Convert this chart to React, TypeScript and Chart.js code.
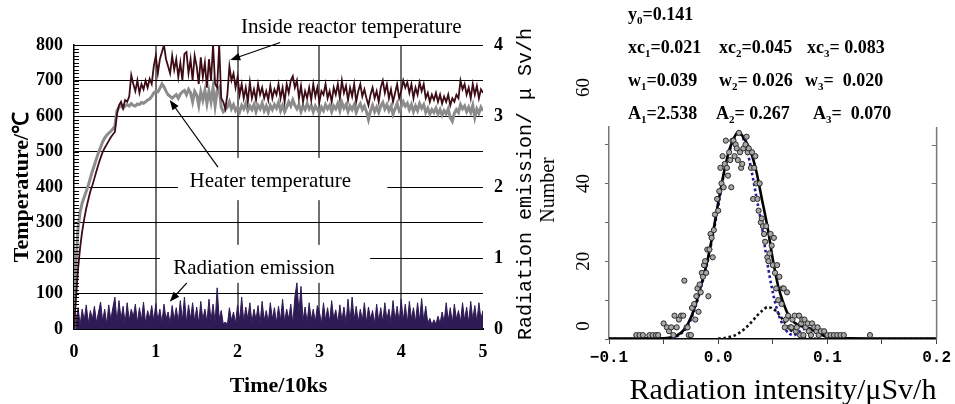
import React, { useEffect, useRef } from "react";
import { Chart, registerables } from "chart.js";

Chart.register(...registerables);

const SERIF = '"Liberation Serif", "Times New Roman", Times, serif';
const MONO = '"Liberation Mono", "Courier New", monospace';

// ---------------- Left panel: temperatures & radiation vs time (10 ks) ----------------
const TIME_STEP = 0.025;

const HEATER_TEMP = [
  0, 190, 285, 330, 355, 372, 388, 405, 425, 445,
  462, 480, 497, 512, 527, 538, 546, 552, 557, 563,
  572, 615, 625, 630, 622, 628, 632, 628, 635, 630,
  628, 634, 632, 638, 636, 640, 645, 648, 655, 665,
  670, 668, 678, 690, 682, 670, 660, 655, 650, 655,
  660, 650, 662, 668, 672, 660, 675, 665, 640, 670,
  660, 630, 668, 645, 672, 635, 670, 640, 680, 628,
  672, 680, 625, 612, 618, 625, 640, 620, 632, 615,
  625, 612, 630, 620, 635, 615, 628, 618, 632, 612,
  630, 620, 636, 615, 628, 610, 630, 618, 632, 622,
  638, 615, 630, 612, 625, 640, 628, 645, 630, 620,
  632, 612, 628, 618, 635, 620, 630, 612, 628, 618,
  608, 625, 615, 632, 620, 630, 612, 628, 620, 635,
  615, 638, 622, 632, 612, 628, 618, 632, 610, 625,
  635, 618, 628, 612, 590, 615, 630, 612, 625, 610,
  628, 638, 620, 632, 615, 628, 605, 620, 635, 615,
  625, 640, 628, 636, 618, 632, 612, 628, 615, 635,
  622, 632, 610, 622, 605, 618, 610, 622, 605, 618,
  602, 615, 606, 620, 595, 585, 608, 618, 610, 632,
  620, 628, 612, 625, 610, 630, 596, 620, 608, 625,
  615,
];

const REACTOR_TEMP = [
  0, 90, 170, 230, 275, 310, 340, 365, 388, 405,
  425, 445, 465, 482, 498, 510, 520, 530, 540, 548,
  555, 605, 630, 640, 622, 645, 640, 655, 715, 690,
  670, 700, 665, 690, 675, 700, 680, 705, 690, 740,
  770, 720, 760, 780, 800, 760, 740, 720, 770, 730,
  760, 710, 750, 700, 775, 780, 720, 760, 700, 770,
  740, 690, 765, 710, 750, 680, 760, 700, 800, 690,
  680, 800, 650, 640, 620, 660, 740, 700, 720, 680,
  710, 660, 690, 650, 680, 640, 695, 650, 675, 645,
  690, 660, 680, 650, 670, 645, 685, 650, 675, 660,
  690, 650, 680, 640, 690, 665, 700, 712, 680, 700,
  650, 685, 640, 670, 650, 680, 645, 690, 655, 680,
  640, 670, 660, 690, 650, 670, 640, 680, 660, 690,
  650, 700, 665, 685, 645, 680, 655, 690, 640, 670,
  690, 655, 675, 650, 630, 660, 680, 650, 670, 640,
  680, 700, 665, 690, 650, 675, 640, 665, 690, 650,
  670, 700, 680, 695, 665, 690, 650, 680, 660, 695,
  670, 690, 650, 665, 640, 660, 645, 665, 640, 660,
  635, 655, 640, 660, 630, 650, 640, 660, 650, 700,
  675, 690, 660, 680, 650, 690, 660, 685, 650, 675,
  665,
];

const RADIATION = [
  0.36, 0.10, 0.30, 0.06, 0.28, 0.12, 0.34, 0.08, 0.26, 0.14,
  0.32, 0.09, 0.24, 0.38, 0.11, 0.28, 0.07, 0.34, 0.13, 0.30,
  0.45, 0.10, 0.40, 0.14, 0.32, 0.08, 0.37, 0.12, 0.28, 0.17,
  0.35, 0.09, 0.30, 0.13, 0.38, 0.08, 0.26, 0.15, 0.33, 0.11,
  0.36, 0.12, 0.28, 0.09, 0.35, 0.14, 0.24, 0.08, 0.33, 0.13,
  0.30, 0.10, 0.40, 0.12, 0.45, 0.09, 0.34, 0.14, 0.37, 0.11,
  0.31, 0.08, 0.39, 0.13, 0.28, 0.10, 0.42, 0.12, 0.35, 0.09,
  0.58, 0.14, 0.26, 0.07, 0.10, 0.06, 0.30, 0.12, 0.24, 0.08,
  0.34, 0.12, 0.45, 0.10, 0.31, 0.14, 0.37, 0.09, 0.28, 0.13,
  0.33, 0.08, 0.39, 0.12, 0.26, 0.10, 0.37, 0.14, 0.30, 0.09,
  0.32, 0.12, 0.42, 0.10, 0.28, 0.14, 0.35, 0.08, 0.45, 0.65,
  0.24, 0.60, 0.12, 0.31, 0.09, 0.37, 0.13, 0.28, 0.10, 0.33,
  0.24, 0.08, 0.37, 0.12, 0.30, 0.10, 0.40, 0.14, 0.27, 0.09,
  0.34, 0.12, 0.31, 0.08, 0.42, 0.11, 0.45, 0.13, 0.32, 0.10,
  0.28, 0.12, 0.37, 0.09, 0.31, 0.14, 0.26, 0.08, 0.35, 0.11,
  0.30, 0.10, 0.37, 0.13, 0.28, 0.09, 0.40, 0.12, 0.32, 0.10,
  0.42, 0.12, 0.35, 0.09, 0.39, 0.14, 0.30, 0.10, 0.37, 0.12,
  0.43, 0.11, 0.32, 0.08, 0.15, 0.06, 0.13, 0.07, 0.18, 0.08,
  0.24, 0.10, 0.37, 0.12, 0.30, 0.09, 0.35, 0.14, 0.26, 0.10,
  0.37, 0.12, 0.31, 0.09, 0.39, 0.13, 0.33, 0.10, 0.37, 0.14,
  0.26,
];

const TIME = HEATER_TEMP.map((_, i) => Math.round(i * TIME_STEP * 1000) / 1000);

// ---------------- Right panel: histogram of radiation intensity ----------------
const HIST_POINTS: [number, number][] = [
  [-0.075, 1], [-0.072, 1], [-0.069, 1], [-0.063, 1], [-0.060, 1], [-0.057, 1], [-0.055, 1],
  [-0.050, 4], [-0.047, 3], [-0.045, 2], [-0.043, 3], [-0.041, 1], [-0.040, 6], [-0.038, 3],
  [-0.036, 5], [-0.034, 6], [-0.032, 6], [-0.031, 15], [-0.029, 3], [-0.028, 3], [-0.027, 1],
  [-0.025, 1], [-0.024, 8], [-0.022, 9], [-0.021, 5], [-0.020, 11], [-0.019, 13], [-0.018, 7],
  [-0.017, 14], [-0.016, 12], [-0.015, 17], [-0.014, 16], [-0.013, 19], [-0.012, 20], [-0.011, 17],
  [-0.010, 23], [-0.009, 11], [-0.008, 23], [-0.007, 27], [-0.006, 26], [-0.005, 21], [-0.004, 28],
  [-0.003, 32], [-0.001, 36], [0.000, 33], [0.001, 38], [0.002, 44], [0.003, 40], [0.004, 47],
  [0.005, 39], [0.006, 45], [0.007, 51], [0.008, 44], [0.009, 42], [0.010, 48], [0.011, 46],
  [0.012, 39], [0.013, 51], [0.014, 51], [0.015, 47], [0.016, 50], [0.017, 49], [0.018, 46],
  [0.019, 53], [0.020, 48], [0.021, 44], [0.022, 45], [0.023, 49], [0.025, 50], [0.026, 52],
  [0.027, 48], [0.028, 49], [0.030, 44], [0.031, 48], [0.032, 36], [0.033, 44], [0.034, 47],
  [0.035, 40], [0.036, 36], [0.037, 33], [0.038, 40], [0.039, 30], [0.040, 31], [0.041, 29],
  [0.042, 27], [0.043, 25], [0.044, 29], [0.045, 21], [0.046, 20], [0.047, 22], [0.048, 27],
  [0.049, 24], [0.050, 19], [0.051, 26], [0.052, 17], [0.053, 13], [0.054, 19], [0.055, 10],
  [0.056, 16], [0.058, 9], [0.059, 13], [0.060, 13], [0.061, 3], [0.062, 5], [0.063, 12],
  [0.064, 6], [0.066, 3], [0.067, 3], [0.068, 5], [0.070, 6], [0.071, 2], [0.072, 3],
  [0.074, 6], [0.075, 1], [0.076, 4], [0.077, 5], [0.078, 1], [0.079, 5], [0.080, 3],
  [0.082, 4], [0.083, 2], [0.085, 1], [0.086, 4], [0.088, 3], [0.090, 2], [0.091, 3],
  [0.092, 1], [0.094, 2], [0.097, 2], [0.100, 1], [0.103, 1], [0.106, 1], [0.109, 1],
  [0.112, 1], [0.115, 1], [0.139, 1],
];

const CURVE_X = [
  -0.1, -0.06, -0.05, -0.04, -0.035, -0.03, -0.025, -0.02, -0.015, -0.01,
  -0.005, 0, 0.005, 0.01, 0.015, 0.018, 0.02, 0.025, 0.03, 0.035,
  0.04, 0.045, 0.05, 0.055, 0.06, 0.065, 0.07, 0.075, 0.08, 0.085,
  0.09, 0.095, 0.1, 0.105, 0.11, 0.12, 0.15, 0.2,
];
const FIT_TOTAL = [
  0.14, 0.15, 0.2, 0.6, 1.4, 2.8, 5.5, 9.5, 14.5, 20,
  27, 35, 42.5, 48.5, 52, 53.2, 53, 51, 48, 43,
  36, 29, 20.5, 13.5, 9, 5.8, 4.2, 3.4, 3.0, 2.5,
  1.7, 1.0, 0.5, 0.3, 0.2, 0.15, 0.14, 0.14,
];
const FIT_PEAKS_1_3 = [
  0, 0, 0.05, 0.4, 1.2, 2.5, 5, 9, 14, 19.5,
  26.5, 34, 42, 48, 51.5, 52.8, 53, 50, 44, 36.5,
  29, 19.5, 12, 6.5, 3.2, 1.4, 1.0, 2.0, 2.7, 2.8,
  2.2, 1.3, 0.5, 0.2, 0.05, 0, 0, 0,
];
const PEAK2_X = [0, 0.005, 0.01, 0.015, 0.02, 0.025, 0.03, 0.035, 0.04, 0.045, 0.05, 0.055, 0.06, 0.065, 0.07, 0.075, 0.08, 0.09, 0.1];
const PEAK2_Y = [0.1, 0.2, 0.5, 0.9, 1.7, 2.8, 4.2, 5.8, 7.2, 8.2, 7.8, 6.6, 4.6, 2.7, 1.4, 0.7, 0.3, 0.05, 0];

const RIGHT_Y_LABELS = [0, 20, 40, 60];
const FIT_ROWS: [string, boolean][][][] = [
  [[["y", false], ["0", true], ["=0.141", false]]],
  [
    [["xc", false], ["1", true], ["=0.021", false]],
    [["xc", false], ["2", true], ["=0.045", false]],
    [["xc", false], ["3", true], ["= 0.083", false]],
  ],
  [
    [["w", false], ["1", true], ["=0.039", false]],
    [["w", false], ["2", true], ["= 0.026", false]],
    [["w", false], ["3", true], ["=  0.020", false]],
  ],
  [
    [["A", false], ["1", true], ["=2.538", false]],
    [["A", false], ["2", true], ["= 0.267", false]],
    [["A", false], ["3", true], ["=  0.070", false]],
  ],
];

function arrow(ctx: CanvasRenderingContext2D, x1: number, y1: number, x2: number, y2: number) {
  const ang = Math.atan2(y2 - y1, x2 - x1);
  const hl = 10, hw = 3.8;
  ctx.beginPath();
  ctx.moveTo(x1, y1);
  ctx.lineTo(x2 - Math.cos(ang) * hl * 0.8, y2 - Math.sin(ang) * hl * 0.8);
  ctx.stroke();
  ctx.beginPath();
  ctx.moveTo(x2, y2);
  ctx.lineTo(x2 - Math.cos(ang) * hl - Math.sin(ang) * hw, y2 - Math.sin(ang) * hl + Math.cos(ang) * hw);
  ctx.lineTo(x2 - Math.cos(ang) * hl + Math.sin(ang) * hw, y2 - Math.sin(ang) * hl - Math.cos(ang) * hw);
  ctx.closePath();
  ctx.fill();
}

const leftDecor = {
  id: "leftDecor",
  beforeDatasetsDraw(chart: any) {
    const { ctx, scales: { x, y } } = chart;
    ctx.save();
    ctx.fillStyle = "#fff";
    const boxes = [
      [1.27, 3.83, 363, 482],
      [1.05, 3.62, 130, 237],
    ];
    for (const [x0, x1, y0, y1] of boxes) {
      const px0 = x.getPixelForValue(x0), px1 = x.getPixelForValue(x1);
      const py0 = y.getPixelForValue(y1), py1 = y.getPixelForValue(y0);
      ctx.fillRect(px0, py0, px1 - px0, py1 - py0);
    }
    ctx.restore();
  },
  afterDraw(chart: any) {
    const { ctx, chartArea: a, scales: { x, y } } = chart;
    ctx.save();
    ctx.strokeStyle = "#000";
    ctx.lineWidth = 1;
    for (let v = 0; v <= 800; v += 10) {
      const py = Math.round(y.getPixelForValue(v)) + 0.5;
      ctx.beginPath();
      ctx.moveTo(a.left - 1, py);
      ctx.lineTo(a.left + 5, py);
      ctx.stroke();
    }
    ctx.fillStyle = "#000";
    ctx.font = `bold 22px ${SERIF}`;
    ctx.textAlign = "center";
    ctx.textBaseline = "middle";
    ctx.save();
    ctx.translate(22, (a.top + a.bottom) / 2);
    ctx.rotate(-Math.PI / 2);
    ctx.fillText("Temperature/℃", 0, 0);
    ctx.restore();
    ctx.textBaseline = "alphabetic";
    ctx.fillText("Time/10ks", (a.left + a.right) / 2, 392);
    ctx.save();
    ctx.font = `20px ${MONO}`;
    ctx.textBaseline = "middle";
    ctx.translate(526, 184);
    ctx.rotate(-Math.PI / 2);
    ctx.fillText("Radiation emission/ μ Sv/h", 0, 0);
    ctx.restore();
    ctx.font = `21px ${SERIF}`;
    ctx.textBaseline = "alphabetic";
    ctx.fillText("Inside reactor temperature", x.getPixelForValue(3.39), y.getPixelForValue(834));
    ctx.fillText("Heater temperature", x.getPixelForValue(2.4), y.getPixelForValue(400));
    ctx.fillText("Radiation emission", x.getPixelForValue(2.2), y.getPixelForValue(155));
    ctx.strokeStyle = "#000";
    ctx.lineWidth = 1.2;
    const arrows = [
      [2.52, 807, 1.91, 758],
      [1.76, 456, 1.17, 645],
      [1.38, 130, 1.17, 77],
    ];
    for (const [ax, ay, bx, by] of arrows) {
      arrow(ctx, x.getPixelForValue(ax), y.getPixelForValue(ay), x.getPixelForValue(bx), y.getPixelForValue(by));
    }
    ctx.restore();
  },
};

const rightDecor = {
  id: "rightDecor",
  afterDraw(chart: any) {
    const { ctx, chartArea: a, scales: { y } } = chart;
    ctx.save();
    ctx.strokeStyle = "#777";
    ctx.lineWidth = 1.5;
    ctx.beginPath();
    ctx.moveTo(a.right, a.top);
    ctx.lineTo(a.right, a.bottom);
    ctx.stroke();
    ctx.lineWidth = 1;
    for (let v = 0; v <= 50; v += 10) {
      const py = Math.round(y.getPixelForValue(v)) + 0.5;
      ctx.beginPath();
      ctx.moveTo(a.right - 5, py);
      ctx.lineTo(a.right, py);
      ctx.stroke();
    }
    ctx.fillStyle = "#000";
    ctx.font = `19px ${SERIF}`;
    ctx.textAlign = "center";
    ctx.textBaseline = "middle";
    for (const v of RIGHT_Y_LABELS) {
      const off = v === 0 ? -13 : v === 60 ? -18 : 0;
      ctx.save();
      ctx.translate(54, y.getPixelForValue(v) + off);
      ctx.rotate(-Math.PI / 2);
      ctx.fillText(String(v), 0, 0);
      ctx.restore();
    }
    ctx.save();
    ctx.font = `20px ${SERIF}`;
    ctx.translate(19, 190);
    ctx.rotate(-Math.PI / 2);
    ctx.fillText("Number", 0, 0);
    ctx.restore();
    ctx.font = `30px ${SERIF}`;
    ctx.textBaseline = "alphabetic";
    ctx.fillText("Radiation intensity/μSv/h", 253, 399);
    ctx.textAlign = "left";
    const colX = [[98], [98, 189, 277], [98, 189, 275], [98, 186, 283]];
    const baseY = [20, 53, 86, 119];
    FIT_ROWS.forEach((row, r) => {
      row.forEach((parts, c) => {
        let cx = colX[r][c];
        for (const [t, sub] of parts) {
          ctx.font = `bold ${sub ? 11 : 18}px ${SERIF}`;
          ctx.fillText(t, cx, baseY[r] + (sub ? 4 : 0));
          cx += ctx.measureText(t).width;
        }
      });
    });
    ctx.restore();
  },
};

export default function App() {
  const leftRef = useRef<HTMLCanvasElement>(null);
  const rightRef = useRef<HTMLCanvasElement>(null);

  useEffect(() => {
    const tickFont = { family: SERIF, size: 18, weight: "bold" as const };
    const left = new Chart(leftRef.current as HTMLCanvasElement, {
      type: "line",
      data: {
        datasets: [
          {
            label: "Inside reactor temperature",
            data: TIME.map((t, i) => ({ x: t, y: REACTOR_TEMP[i] })),
            borderColor: "#3c0c14",
            borderWidth: 1.8,
            yAxisID: "y",
          },
          {
            label: "Heater temperature",
            data: TIME.map((t, i) => ({ x: t, y: HEATER_TEMP[i] })),
            borderColor: "#8c8c8c",
            borderWidth: 3,
            yAxisID: "y",
          },
          {
            label: "Radiation emission",
            data: TIME.map((t, i) => ({ x: t, y: RADIATION[i] })),
            borderColor: "#2e1a55",
            backgroundColor: "#2e1a55",
            borderWidth: 1,
            fill: "origin",
            yAxisID: "y1",
          },
        ],
      },
      options: {
        responsive: false,
        animation: false,
        layout: { padding: { top: 45, left: 0, right: 0, bottom: 0 } },
        elements: { point: { radius: 0 }, line: { tension: 0 } },
        plugins: { legend: { display: false }, tooltip: { enabled: false } },
        scales: {
          x: {
            type: "linear",
            min: 0,
            max: 5,
            afterFit: (s: any) => { s.height = 75; },
            ticks: { stepSize: 1, color: "#000", padding: 13, font: tickFont, maxRotation: 0 },
            grid: {
              drawTicks: false,
              lineWidth: 2,
              color: (c: any) => (c.tick && c.tick.value > 0 && c.tick.value < 5 ? "#707070" : "rgba(0,0,0,0)"),
            },
            border: { display: true, color: "#000", width: 2 },
          },
          y: {
            min: 0,
            max: 800,
            afterFit: (s: any) => { s.width = 74; },
            ticks: { stepSize: 100, color: "#000", padding: 11, font: tickFont },
            grid: { drawTicks: false, color: "#000", lineWidth: 1 },
            border: { display: true, color: "#000", width: 1.5 },
          },
          y1: {
            position: "right",
            min: 0,
            max: 4,
            afterFit: (s: any) => { s.width = 57; },
            ticks: { stepSize: 1, color: "#000", padding: 11, font: tickFont },
            grid: { drawOnChartArea: false, drawTicks: false },
            border: { display: false },
          },
        },
      },
      plugins: [leftDecor],
    } as any);

    const right = new Chart(rightRef.current as HTMLCanvasElement, {
      type: "scatter",
      data: {
        datasets: [
          {
            label: "Counts",
            data: HIST_POINTS.map(([px, py]) => ({ x: px, y: py })),
            pointRadius: 2.6,
            pointBackgroundColor: "#a8a8a8",
            pointBorderColor: "#2a2a2a",
            pointBorderWidth: 1,
            showLine: false,
          },
          {
            label: "Fit",
            data: CURVE_X.map((cx, i) => ({ x: cx, y: FIT_TOTAL[i] })),
            showLine: true,
            borderColor: "#000",
            borderWidth: 2.6,
            pointRadius: 0,
            tension: 0.3,
          },
          {
            label: "Peaks 1 & 3",
            data: CURVE_X.map((cx, i) => ({ x: cx, y: FIT_PEAKS_1_3[i] })),
            showLine: true,
            borderColor: "#1c1ca0",
            borderWidth: 2.6,
            borderDash: [2.6, 2.6],
            pointRadius: 0,
            tension: 0.3,
          },
          {
            label: "Peak 2",
            data: PEAK2_X.map((cx, i) => ({ x: cx, y: PEAK2_Y[i] })),
            showLine: true,
            borderColor: "#111",
            borderWidth: 2.6,
            borderDash: [2.6, 2.6],
            pointRadius: 0,
            tension: 0.3,
          },
        ],
      },
      options: {
        responsive: false,
        animation: false,
        layout: { padding: { top: 127, left: 0, right: 14, bottom: 0 } },
        plugins: { legend: { display: false }, tooltip: { enabled: false } },
        scales: {
          x: {
            type: "linear",
            min: -0.1,
            max: 0.2,
            afterFit: (s: any) => { s.height = 65; },
            ticks: {
              stepSize: 0.05,
              autoSkip: false,
              maxRotation: 0,
              color: "#000",
              padding: 4,
              font: { family: MONO, size: 16, weight: "bold" },
              callback: (v: any) => {
                const n = Number(v);
                const r = Math.round(n * 10);
                if (Math.abs(n * 10 - r) > 1e-6) return "";
                return (r < 0 ? "−" : "") + (Math.abs(r) / 10).toFixed(1);
              },
            },
            grid: { drawOnChartArea: false, drawTicks: true, tickLength: 5, color: "#444", lineWidth: 1 },
            border: { display: true, color: "#000", width: 1.5 },
          },
          y: {
            min: 0,
            max: 54.5,
            afterFit: (s: any) => { s.width = 79; },
            afterBuildTicks: (s: any) => {
              s.ticks = s.ticks.filter((t: any) => Math.abs(t.value / 10 - Math.round(t.value / 10)) < 1e-6);
            },
            ticks: { stepSize: 10, display: false },
            grid: { drawOnChartArea: false, drawTicks: true, tickLength: 4, color: "#666", lineWidth: 1 },
            border: { display: true, color: "#777", width: 1.5 },
          },
        },
      },
      plugins: [rightDecor],
    } as any);

    return () => {
      left.destroy();
      right.destroy();
    };
  }, []);

  return (
    <div style={{ position: "absolute", left: 0, top: 0, width: 955, height: 404, background: "#fff", overflow: "hidden" }}>
      <canvas ref={leftRef} width={540} height={404} style={{ position: "absolute", left: 0, top: 0, display: "block" }} />
      <canvas ref={rightRef} width={425} height={404} style={{ position: "absolute", left: 530, top: 0, display: "block" }} />
    </div>
  );
}
